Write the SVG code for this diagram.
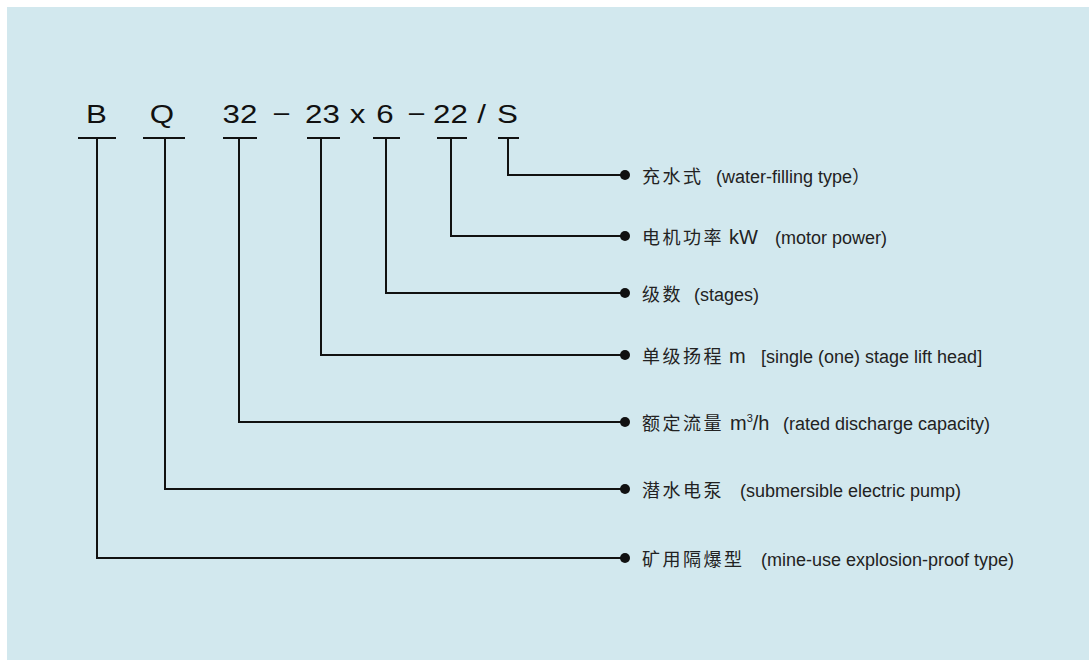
<svg xmlns="http://www.w3.org/2000/svg" width="1089" height="660" viewBox="0 0 1089 660">
<style>
.code{font-family:"Liberation Sans","Noto Sans CJK SC",sans-serif;font-size:26.5px;fill:#111;text-anchor:middle}
.cn{font-family:"Noto Sans CJK SC",sans-serif;font-size:18px;fill:#222;letter-spacing:2.5px}
.unit{font-family:"Liberation Sans","Noto Sans CJK SC",sans-serif;font-size:20px;fill:#222}
.en{font-family:"Liberation Sans","Noto Sans CJK SC",sans-serif;font-size:18px;fill:#222}
.ln{fill:none;stroke:#111;stroke-width:2}
.dot{fill:#111}
</style>
<rect x="0" y="0" width="1089" height="660" fill="#ffffff"/>
<rect x="7" y="7" width="1082" height="653" fill="#d2e8ee"/>

<g id="code-B"><text class="code" transform="translate(96.5 123) scale(1.18 1)">B</text></g>
<g id="code-Q"><text class="code" transform="translate(162 123) scale(1.18 1)">Q</text></g>
<g id="code-32"><text class="code" transform="translate(240 123) scale(1.18 1)">32</text></g>
<g id="code-dash1"><text class="code" transform="translate(281.5 123) scale(1.18 1)">−</text></g>
<g id="code-23"><text class="code" transform="translate(322.5 123) scale(1.18 1)">23</text></g>
<g id="code-x"><text class="code" transform="translate(357.5 123) scale(1.18 1)">x</text></g>
<g id="code-6"><text class="code" transform="translate(385 123) scale(1.18 1)">6</text></g>
<g id="code-dash2"><text class="code" transform="translate(416.5 123) scale(1.18 1)">−</text></g>
<g id="code-22"><text class="code" transform="translate(450.5 123) scale(1.18 1)">22</text></g>
<g id="code-slash"><text class="code" transform="translate(481.5 123) scale(1.18 1)">/</text></g>
<g id="code-S"><text class="code" transform="translate(507.5 123) scale(1.18 1)">S</text></g>

<g id="connectors">
<path class="ln" d="M78 138H116M97 138V558H625"/>
<path class="ln" d="M143 138H185M165 138V489H625"/>
<path class="ln" d="M223 138H257M239 138V422H625"/>
<path class="ln" d="M307 138H340M321 138V355H625"/>
<path class="ln" d="M373 138H400M386 138V293H625"/>
<path class="ln" d="M437 138H467M451 138V236H625"/>
<path class="ln" d="M498 138H519M508 138V175H625"/>
</g>

<g id="label-S">
<circle class="dot" cx="625" cy="175" r="5"/>
<text class="cn" x="642" y="183">充水式</text>
<text class="en" x="716" y="183">(water-filling type）</text>
</g>
<g id="label-22">
<circle class="dot" cx="625" cy="236" r="5"/>
<text class="cn" x="642" y="244">电机功率</text>
<text class="unit" x="729" y="244">kW</text>
<text class="en" x="775" y="244">(motor power)</text>
</g>
<g id="label-6">
<circle class="dot" cx="625" cy="293" r="5"/>
<text class="cn" x="642" y="301">级数</text>
<text class="en" x="694" y="301">(stages)</text>
</g>
<g id="label-23">
<circle class="dot" cx="625" cy="355" r="5"/>
<text class="cn" x="642" y="363">单级扬程</text>
<text class="unit" x="729" y="363">m</text>
<text class="en" x="761" y="363">[single (one) stage lift head]</text>
</g>
<g id="label-32">
<circle class="dot" cx="625" cy="422" r="5"/>
<text class="cn" x="642" y="430">额定流量</text>
<text class="unit" x="730" y="430">m<tspan font-size="11" dy="-8">3</tspan><tspan dy="8">/h</tspan></text>
<text class="en" x="783" y="430">(rated discharge capacity)</text>
</g>
<g id="label-Q">
<circle class="dot" cx="625" cy="489" r="5"/>
<text class="cn" x="642" y="497">潜水电泵</text>
<text class="en" x="740" y="497">(submersible electric pump)</text>
</g>
<g id="label-B">
<circle class="dot" cx="625" cy="558" r="5"/>
<text class="cn" x="642" y="566">矿用隔爆型</text>
<text class="en" x="761" y="566">(mine-use explosion-proof type)</text>
</g>
</svg>
